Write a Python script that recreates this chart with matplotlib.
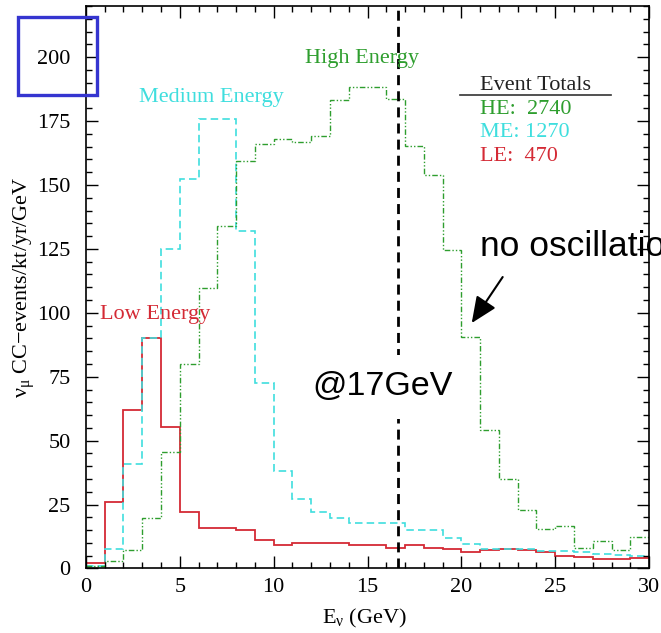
import matplotlib.pyplot as plt
import matplotlib.patches as patches
import numpy as np

# 1 GeV bins from 0 to 30 GeV
bin_edges = np.arange(0, 31)

# nu_mu CC events / kt / yr / GeV per beam configuration
low_energy = [2.0, 26, 62, 90, 55.5, 22, 16, 16, 15.2, 11,
              9.3, 9.8, 10, 10, 9.1, 9, 8.1, 9, 8.2, 7.7,
              6.5, 7.1, 7.6, 7.1, 6.4, 4.9, 4.5, 3.6, 3.9, 4.1]
medium_energy = [0.8, 7.8, 41, 90, 125, 152.5, 176, 176, 132, 72.5,
                 38, 27.3, 22.2, 19.8, 17.6, 17.6, 17.6, 15, 15, 11.8,
                 9.7, 7.7, 7.7, 7.7, 7, 7, 6.5, 5.6, 5.1, 5]
high_energy = [0.9, 2.8, 7.4, 19.7, 45.7, 80, 109.7, 134, 159.4, 166.2,
               168.1, 166.7, 169.2, 183.1, 188.3, 188.3, 183.8, 165.2, 154, 124.5,
               90.5, 54, 35, 23, 15.3, 16.5, 8.2, 10.8, 7.2, 12.3]

totals_labels = ['HE:  2740', 'ME: 1270', 'LE:  470']
peak_energy = 16.6

GREEN = '#2e9e2e'
CYAN = '#3fdede'
RED = '#d42a35'
SERIF = 'Liberation Serif'
SANS = 'Liberation Sans'

plt.rcParams['mathtext.fontset'] = 'custom'
plt.rcParams['mathtext.rm'] = SERIF
plt.rcParams['mathtext.it'] = SERIF

fig = plt.figure(figsize=(6.61, 6.33), dpi=100)
ax = fig.add_axes([0.130, 0.1019, 0.852, 0.8886])

ax.stairs(low_energy, bin_edges, baseline=None, color=RED, lw=1.3)
ax.stairs(medium_energy, bin_edges, baseline=None, color=CYAN, lw=1.2,
          linestyle=(0, (4.5, 2.5)))
ax.stairs(high_energy, bin_edges, baseline=None, color=GREEN, lw=1.0,
          linestyle=(0, (4, 1.5, 1, 1.5, 1, 1.5)))

ax.axvline(peak_energy, color='black', lw=2, linestyle=(0, (3.6, 2.2)), zorder=1)

ax.set_xlim(0, 30)
ax.set_ylim(0, 220)
ax.set_xticks(np.arange(0, 31, 5))
ax.set_xticks(np.arange(0, 31, 1), minor=True)
ax.set_yticks(np.arange(0, 201, 25))
ax.set_yticks(np.arange(0, 221, 5), minor=True)
ax.tick_params(which='both', direction='in', top=True, right=True, width=1)
ax.tick_params(which='major', length=8.5)
ax.tick_params(which='minor', length=4.3)
ax.tick_params(axis='x', pad=7)
ax.tick_params(axis='y', pad=11)
for lab in ax.get_xticklabels() + ax.get_yticklabels():
    lab.set_fontfamily(SERIF)
    lab.set_fontsize(16)
for sp in ax.spines.values():
    sp.set_linewidth(1.2)

ax.set_xlabel(r'E$_\nu$ (GeV)', fontfamily=SERIF, fontsize=16)
ax.xaxis.set_label_coords(0.495, -0.068)
ax.set_ylabel(r'$\nu_\mu$ CC$-$events/kt/yr/GeV', fontfamily=SERIF, fontsize=16)
ax.yaxis.set_label_coords(-0.087, 0.5)

# curve labels
ax.text(11.67, 199.5, 'High Energy', color=GREEN, fontfamily=SERIF,
        fontsize=16, va='center')
ax.text(2.82, 184.1, 'Medium Energy', color=CYAN, fontfamily=SERIF,
        fontsize=16, va='center')
ax.text(0.75, 99.3, 'Low Energy', color=RED, fontfamily=SERIF,
        fontsize=16, va='center')

# event totals box
ax.text(21.0, 189, 'Event Totals', color='#222222', fontfamily=SERIF,
        fontsize=16, va='center')
ax.plot([0.665, 0.932], [0.841, 0.841], transform=ax.transAxes,
        color='#333333', lw=1.2)
for i, (lab, col) in enumerate(zip(totals_labels, [GREEN, CYAN, RED])):
    ax.text(21.0, 179.7 - 9.2 * i, lab, color=col, fontfamily=SERIF,
            fontsize=16, va='center')

# annotations
ax.text(12.05, 71, '@17GeV', fontfamily=SANS, fontsize=24.5, va='center',
        bbox=dict(facecolor='white', edgecolor='none', pad=12))
ax.text(21.0, 122.3, 'no oscillation', fontfamily=SANS, fontsize=25.5,
        va='baseline', clip_on=False)
ax.annotate('', xy=(20.55, 96), xytext=(22.2, 114),
            arrowprops=dict(arrowstyle='-|>,head_length=0.8,head_width=0.35',
                            mutation_scale=20, color='black', lw=1.5,
                            shrinkA=0, shrinkB=0))

# highlight box around the top y tick label
fig.patches.append(patches.Rectangle((0.0277, 0.850), 0.1186, 0.1237,
                                     transform=fig.transFigure, fill=False,
                                     edgecolor='#3535d0', lw=2.4))

fig.savefig('out.png', dpi=100)
